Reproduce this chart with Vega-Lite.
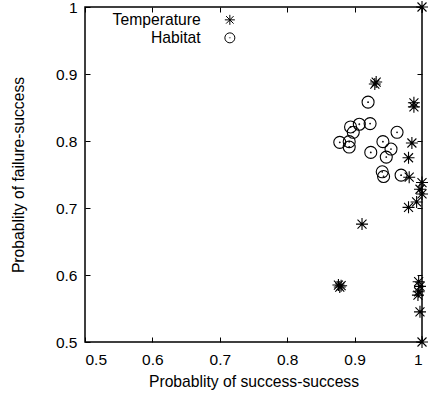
{
  "$schema": "https://vega.github.io/schema/vega-lite/v6.json",
  "width": 337,
  "height": 335,
  "autosize": {"type": "none"},
  "padding": {"left": 85, "top": 7, "right": 11, "bottom": 54},
  "background": "white",
  "config": {
    "font": "Liberation Sans",
    "view": {"stroke": "black", "strokeWidth": 1.5},
    "axis": {
      "domain": false,
      "grid": false,
      "tickColor": "black",
      "tickSize": -5,
      "tickWidth": 1,
      "labelColor": "black",
      "labelFont": "Liberation Sans",
      "labelFontSize": 15.5,
      "titleColor": "black",
      "titleFont": "Liberation Sans",
      "titleFontSize": 15.7,
      "titleFontWeight": "normal"
    },
    "legend": {
      "labelFont": "Liberation Sans",
      "labelFontSize": 15.7,
      "labelColor": "black"
    }
  },
  "data": {
    "values": [
      {"series": "Temperature", "x": 1.0, "y": 1.0},
      {"series": "Temperature", "x": 0.930, "y": 0.885},
      {"series": "Temperature", "x": 0.932, "y": 0.888},
      {"series": "Temperature", "x": 0.988, "y": 0.857},
      {"series": "Temperature", "x": 0.988, "y": 0.851},
      {"series": "Temperature", "x": 0.985, "y": 0.797},
      {"series": "Temperature", "x": 0.980, "y": 0.775},
      {"series": "Temperature", "x": 0.981, "y": 0.746},
      {"series": "Temperature", "x": 1.0, "y": 0.738},
      {"series": "Temperature", "x": 0.997, "y": 0.728},
      {"series": "Temperature", "x": 1.0, "y": 0.721},
      {"series": "Temperature", "x": 0.992, "y": 0.709},
      {"series": "Temperature", "x": 0.980, "y": 0.701},
      {"series": "Temperature", "x": 0.911, "y": 0.676},
      {"series": "Temperature", "x": 0.876, "y": 0.585},
      {"series": "Temperature", "x": 0.878, "y": 0.582},
      {"series": "Temperature", "x": 0.880, "y": 0.584},
      {"series": "Temperature", "x": 0.995, "y": 0.590},
      {"series": "Temperature", "x": 0.997, "y": 0.583},
      {"series": "Temperature", "x": 0.995, "y": 0.575},
      {"series": "Temperature", "x": 0.994, "y": 0.570},
      {"series": "Temperature", "x": 0.997, "y": 0.545},
      {"series": "Temperature", "x": 1.0, "y": 0.5},
      {"series": "Habitat", "x": 0.920, "y": 0.858},
      {"series": "Habitat", "x": 0.894, "y": 0.821},
      {"series": "Habitat", "x": 0.907, "y": 0.825},
      {"series": "Habitat", "x": 0.923, "y": 0.826},
      {"series": "Habitat", "x": 0.898, "y": 0.813},
      {"series": "Habitat", "x": 0.878, "y": 0.798},
      {"series": "Habitat", "x": 0.892, "y": 0.799},
      {"series": "Habitat", "x": 0.892, "y": 0.791},
      {"series": "Habitat", "x": 0.963, "y": 0.813},
      {"series": "Habitat", "x": 0.942, "y": 0.799},
      {"series": "Habitat", "x": 0.954, "y": 0.788},
      {"series": "Habitat", "x": 0.924, "y": 0.783},
      {"series": "Habitat", "x": 0.947, "y": 0.776},
      {"series": "Habitat", "x": 0.941, "y": 0.754},
      {"series": "Habitat", "x": 0.943, "y": 0.747},
      {"series": "Habitat", "x": 0.969, "y": 0.749}
    ]
  },
  "layer": [
    {
      "mark": {"type": "point", "filled": false, "color": "black", "strokeWidth": 1.1, "size": 144, "opacity": 1, "clip": false},
      "encoding": {
        "x": {
          "field": "x", "type": "quantitative",
          "scale": {"domain": [0.5, 1], "nice": false, "zero": false},
          "axis": {"orient": "bottom", "title": "Probablity of success-success", "values": [0.5, 0.6, 0.7, 0.8, 0.9, 1], "format": "~g", "labelPadding": 15, "titlePadding": 7}
        },
        "y": {
          "field": "y", "type": "quantitative",
          "scale": {"domain": [0.5, 1], "nice": false, "zero": false},
          "axis": {"orient": "left", "title": "Probablity of failure-success", "values": [0.5, 0.6, 0.7, 0.8, 0.9, 1], "format": "~g", "labelPadding": 13, "titlePadding": 29}
        },
        "shape": {
          "field": "series", "type": "nominal",
          "scale": {
            "domain": ["Temperature", "Habitat"],
            "range": [
              "M-1,0L1,0M0,-1L0,1M-0.75,-0.75L0.75,0.75M-0.75,0.75L0.75,-0.75",
              "M-1,0A1,1 0 1,0 1,0A1,1 0 1,0 -1,0ZM-0.06,0A0.06,0.06 0 1,0 0.06,0A0.06,0.06 0 1,0 -0.06,0Z"
            ]
          },
          "legend": {
            "title": null,
            "orient": "none",
            "legendX": 137,
            "legendY": 5,
            "padding": 0,
            "labelAlign": "right",
            "labelOffset": -37,
            "symbolSize": 100,
            "symbolStrokeColor": "black",
            "symbolStrokeWidth": 1,
            "symbolFillColor": "transparent",
            "rowPadding": 1
          }
        }
      }
    },
    {
      "mark": {"type": "point", "opacity": 0, "clip": false},
      "encoding": {
        "x": {
          "field": "x", "type": "quantitative",
          "scale": {"domain": [0.5, 1], "nice": false, "zero": false},
          "axis": {"orient": "top", "title": null, "labels": false, "values": [0.5, 0.6, 0.7, 0.8, 0.9, 1]}
        },
        "y": {
          "field": "y", "type": "quantitative",
          "scale": {"domain": [0.5, 1], "nice": false, "zero": false},
          "axis": {"orient": "right", "title": null, "labels": false, "values": [0.5, 0.6, 0.7, 0.8, 0.9, 1]}
        }
      }
    }
  ],
  "resolve": {"axis": {"x": "independent", "y": "independent"}}
}
